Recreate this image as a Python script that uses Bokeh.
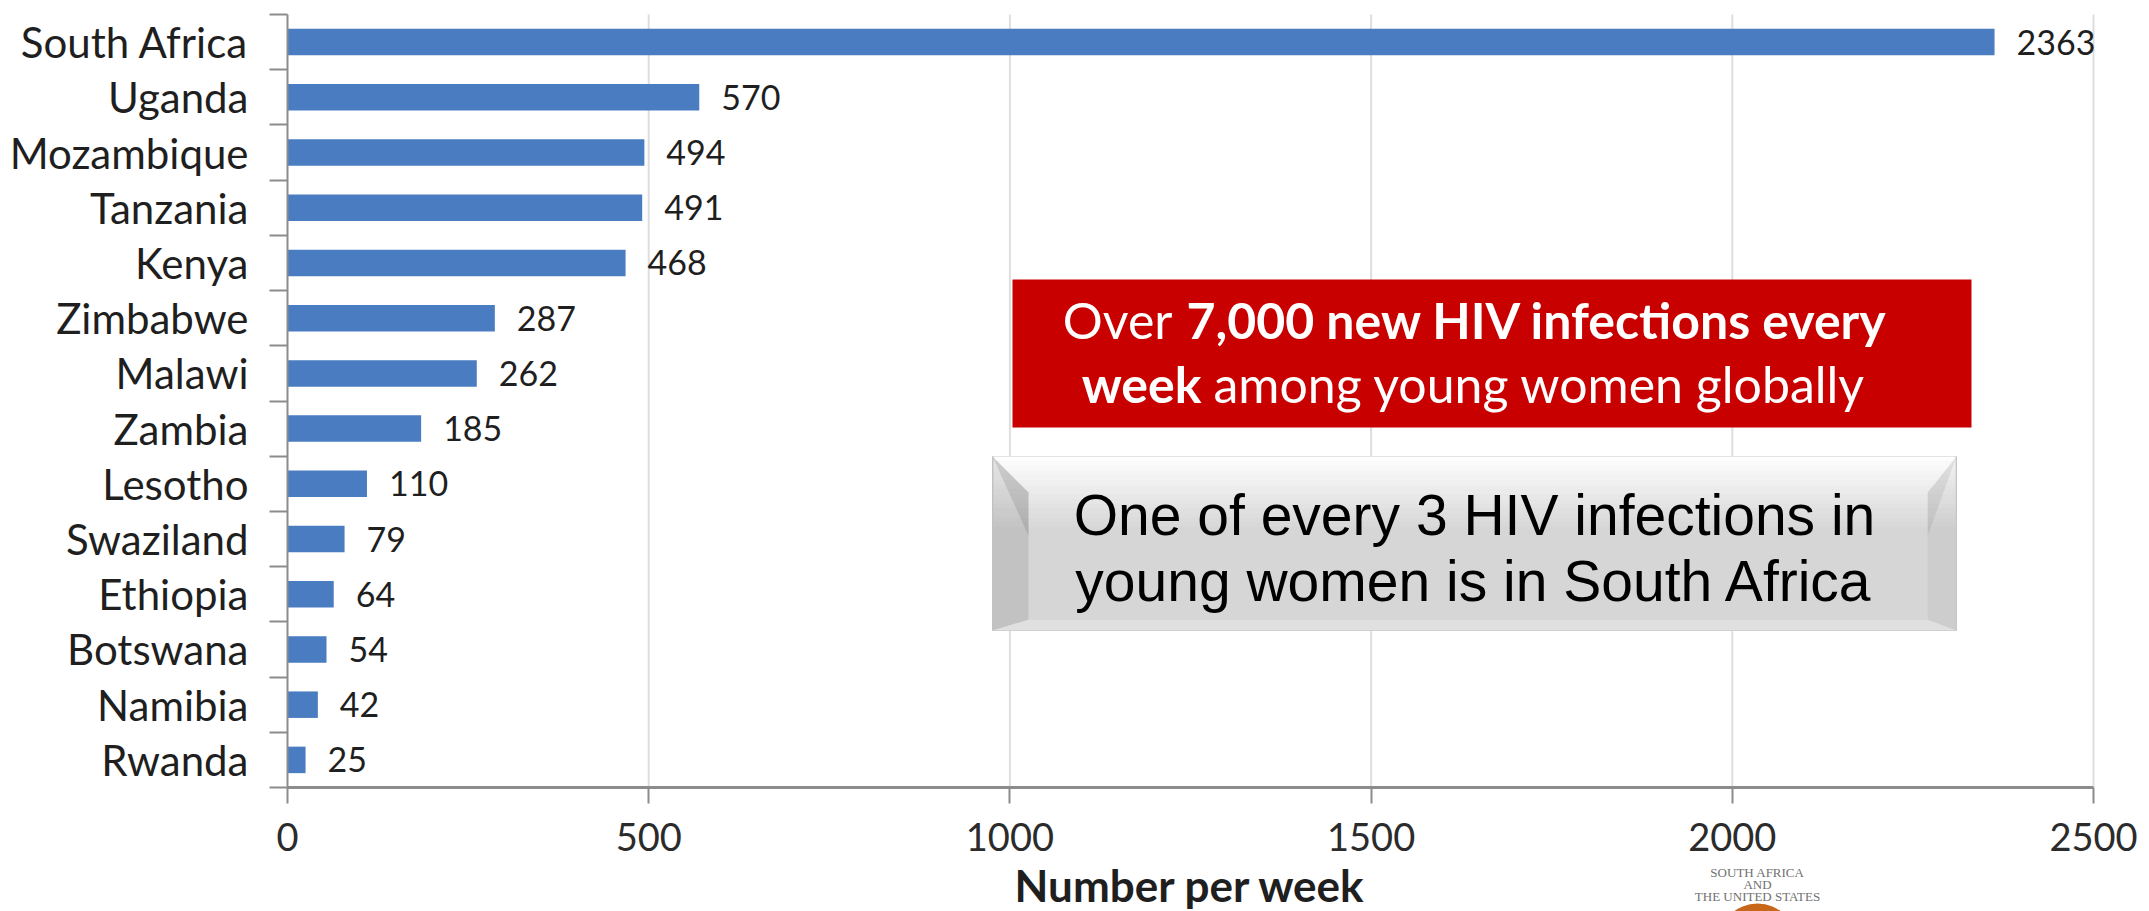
from bokeh.plotting import figure
from bokeh.models import ColumnDataSource, FixedTicker, LabelSet, Label, Range1d
from bokeh.embed import file_html
from bokeh.resources import INLINE
from bokeh.core.properties import value

# ---------------- data ----------------
countries = ["South Africa", "Uganda", "Mozambique", "Tanzania", "Kenya", "Zimbabwe",
             "Malawi", "Zambia", "Lesotho", "Swaziland", "Ethiopia", "Botswana",
             "Namibia", "Rwanda"]
infections_per_week = [2363, 570, 494, 491, 468, 287, 262, 185, 110, 79, 64, 54, 42, 25]
x_ticks = [0, 500, 1000, 1500, 2000, 2500]
x_title = "Number per week"
red_note_normal = ["Over", "among young women globally"]
red_note_bold = ["7,000 new HIV infections every", "week"]
grey_note = ["One of every 3 HIV infections in", "young women is in South Africa"]
logo_lines = ["SOUTH AFRICA", "AND", "THE UNITED STATES"]

n = len(countries)
ypos = [n - 1 - i for i in range(n)]
source = ColumnDataSource(dict(country=countries, value=infections_per_week, y=ypos,
                               label=[str(v) for v in infections_per_week]))

# ---------------- geometry ----------------
# The frame covers the whole canvas; both axes are pinned at x=0 / y=-0.5.
W, H = 2149, 911
AX_LEFT, AX_TOP = 287, 14        # canvas px of the axes corner / top of categories
XMAX = x_ticks[-1]
SCALE = 1806 / XMAX              # px per unit on x
CAT_H = 773 / n                  # px per category
Y0, Y1 = -0.5, n - 0.5


def dx(sx):  # canvas px -> data x
    return (sx - AX_LEFT) / SCALE


def dy(sy):  # canvas px -> data y
    return Y1 - (sy - AX_TOP) / CAT_H


p = figure(width=W, height=H, x_range=Range1d(dx(0), dx(W)), y_range=Range1d(dy(H), dy(0)),
           output_backend="svg", toolbar_location=None,
           min_border_left=0, min_border_right=0, min_border_top=0, min_border_bottom=0)
p.outline_line_color = None
p.background_fill_color = "white"
p.border_fill_color = "white"

# vertical grid lines (only over the category area)
p.xgrid.visible = False
p.ygrid.visible = False
p.segment(x0=x_ticks[1:], x1=x_ticks[1:], y0=[Y0] * (len(x_ticks) - 1),
          y1=[Y1] * (len(x_ticks) - 1), line_color="#DEDEDE", line_width=2)

# x axis
ax = p.xaxis[0]
ax.fixed_location = Y0
ax.bounds = (0, XMAX)
ax.ticker = FixedTicker(ticks=x_ticks, minor_ticks=[])
ax.axis_line_color = "#8C8C8C"
ax.axis_line_width = 3
ax.major_tick_line_color = "#8C8C8C"
ax.major_tick_line_width = 2
ax.major_tick_out = 16
ax.major_tick_in = 0
ax.minor_tick_line_color = None
ax.major_label_text_font = "Lato"
ax.major_label_text_font_size = "38px"
ax.major_label_text_color = "#2b2b2b"
ax.major_label_standoff = 19
ax.axis_label = x_title
ax.axis_label_text_font = "Lato"
ax.axis_label_text_font_size = "44px"
ax.axis_label_text_font_style = "bold"
ax.axis_label_text_color = "#1f1f1f"
ax.axis_label_standoff = 5

# y axis (labels at centres, ticks at category boundaries)
ay = p.yaxis[0]
ay.fixed_location = 0
ay.bounds = (Y0, Y1)
ay.ticker = FixedTicker(ticks=ypos, minor_ticks=[k - 0.5 for k in range(n + 1)])
ay.major_label_overrides = {int(y): c for y, c in zip(ypos, countries)}
ay.axis_line_color = "#8C8C8C"
ay.axis_line_width = 2
ay.major_tick_line_color = None
ay.major_tick_out = 18
ay.major_tick_in = 0
ay.minor_tick_line_color = "#8C8C8C"
ay.minor_tick_line_width = 2
ay.minor_tick_out = 18
ay.minor_tick_in = 0
ay.major_label_text_font = "Lato"
ay.major_label_text_font_size = "42px"
ay.major_label_text_color = "#1f1f1f"
ay.major_label_standoff = 21

# bars
p.hbar(y="y", right="value", left=0, height=0.48, source=source,
       fill_color="#4A7CC1", line_color=None)

p.add_layout(LabelSet(x="value", y="y", text="label", source=source, x_offset=22,
                      text_baseline="middle", text_font=value("Lato"),
                      text_font_size="34px", text_color="#1f1f1f"))

# ---------------- red note ----------------
p.quad(left=[dx(1012)], right=[dx(1971)], top=[dy(279)], bottom=[dy(427)],
       fill_color="#C80000", line_color=None)
red_kw = dict(text_baseline="middle", text_font=value("Lato"), text_font_size="50px",
              text_color="white")
p.text(x=[dx(1172)], y=[dy(319)], text=[red_note_normal[0]], text_align="right", **red_kw)
p.text(x=[dx(1186)], y=[dy(319)], text=[red_note_bold[0]], text_align="left",
       text_font_style="bold", **red_kw)
p.text(x=[dx(1201)], y=[dy(383)], text=[red_note_bold[1]], text_align="right",
       text_font_style="bold", **red_kw)
p.text(x=[dx(1213)], y=[dy(383)], text=[red_note_normal[1]], text_align="left", **red_kw)

# ---------------- grey bevelled note ----------------
L, R, T, B, b = 992, 1956, 456, 630, 36
p.quad(left=[dx(L)], right=[dx(R)], top=[dy(T)], bottom=[dy(B)],
       fill_color="#D6D6D6", line_color="#CACACA", line_width=1)
steps = 16
g_h = 75
lefts, rights, tops, bottoms, cols = [], [], [], [], []
for k in range(steps):
    t = k / (steps - 1)
    c = int(round(253 + (214 - 253) * t))
    lefts.append(dx(L + 1)); rights.append(dx(R - 1))
    tops.append(dy(T + g_h * k / steps)); bottoms.append(dy(T + g_h * (k + 1) / steps + 0.5))
    cols.append("#%02x%02x%02x" % (c, c, c))
p.quad(left=lefts, right=rights, top=tops, bottom=bottoms, fill_color=cols, line_color=None)
bevels_x = [
    [dx(L), dx(L + b), dx(L + b), dx(L)],                 # left
    [dx(L), dx(L + b), dx(L + b)],                        # upper-left shade
    [dx(R), dx(R), dx(R - b * 0.8), dx(R - b * 0.8)],     # right
    [dx(R), dx(R - b * 0.8), dx(R - b * 0.8)],            # upper-right shade
    [dx(L), dx(R), dx(R - b * 0.8), dx(L + b)],           # bottom
]
bevels_y = [
    [dy(T), dy(T + b), dy(B - b * 0.3), dy(B)],
    [dy(T), dy(T + b), dy(T + b * 2.2)],
    [dy(T), dy(B), dy(B - b * 0.3), dy(T + b)],
    [dy(T), dy(T + b), dy(T + b * 2.2)],
    [dy(B), dy(B), dy(B - b * 0.3), dy(B - b * 0.3)],
]
p.patches(xs=bevels_x, ys=bevels_y,
          fill_color=["#000000", "#000000", "#000000", "#000000", "#FFFFFF"],
          fill_alpha=[0.09, 0.1, 0.04, 0.07, 0.25], line_color=None)
p.text(x=[dx(1474), dx(1474)], y=[dy(514), dy(580)], text=grey_note, text_align="center",
       text_baseline="middle", text_font=value("Liberation Sans"),
       text_font_size="57px", text_color="black")

# ---------------- logo below the axis ----------------
for k, t in enumerate(logo_lines):
    p.add_layout(Label(x=dx(1757), y=dy(872 + 12 * k), text=t, text_align="center",
                       text_baseline="middle", text_font="Liberation Serif",
                       text_font_size="13px", text_color="#707070"))
p.circle(x=[dx(1757)], y=[dy(942)], radius=39, radius_units="screen",
         fill_color="#C8661A", line_color=None)

open("out.html", "w").write(file_html(p, INLINE))
